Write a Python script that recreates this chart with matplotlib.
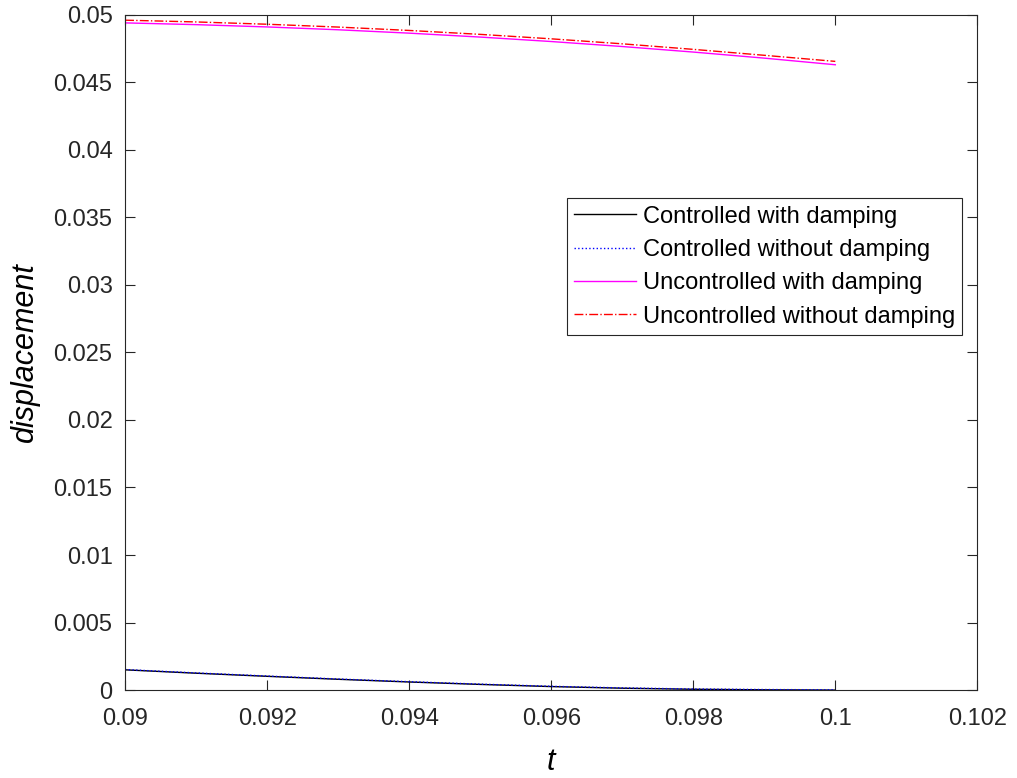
import matplotlib.pyplot as plt
import numpy as np

plt.rcParams['font.family'] = ['Liberation Sans', 'DejaVu Sans']

t = [0.090, 0.091, 0.092, 0.093, 0.094, 0.095, 0.096, 0.097, 0.098, 0.099, 0.100]
ctrl_damp = [0.00150, 0.00125, 0.00102, 0.00080, 0.00060, 0.00042, 0.00026, 0.00014, 0.00006, 0.00002, 0.00000]
ctrl_nodamp = [0.00152, 0.00127, 0.00104, 0.00082, 0.00062, 0.00044, 0.00028, 0.00016, 0.00008, 0.00004, 0.00002]
unc_damp = [0.04940, 0.04927, 0.04910, 0.04889, 0.04864, 0.04835, 0.04802, 0.04765, 0.04724, 0.04679, 0.04630]
unc_nodamp = [0.04960, 0.04947, 0.04930, 0.04909, 0.04884, 0.04855, 0.04822, 0.04785, 0.04744, 0.04700, 0.04655]

fig = plt.figure(figsize=(10.17, 7.78), dpi=100)
ax = fig.add_axes([0.123, 0.113, 0.838, 0.868])

ax.plot(t, ctrl_damp, color='black', lw=1, label='Controlled with damping')
ax.plot(t, ctrl_nodamp, color='blue', lw=1, ls=':', label='Controlled without damping')
ax.plot(t, unc_damp, color='magenta', lw=1, label='Uncontrolled with damping')
ax.plot(t, unc_nodamp, color='red', lw=1, ls='-.', label='Uncontrolled without damping')

ax.set_xlim(0.09, 0.102)
ax.set_ylim(0, 0.05)
ax.set_xticks(np.arange(0.09, 0.1021, 0.002))
ax.set_xticklabels(['0.09', '0.092', '0.094', '0.096', '0.098', '0.1', '0.102'])
ax.set_yticks(np.arange(0, 0.0501, 0.005))
ax.set_yticklabels(['0', '0.005', '0.01', '0.015', '0.02', '0.025', '0.03',
                    '0.035', '0.04', '0.045', '0.05'])
ax.tick_params(direction='in', top=True, right=True, labelsize=17, length=7, colors='#262626')
ax.tick_params(axis='x', pad=13)
ax.tick_params(axis='y', pad=9)
for s in ax.spines.values():
    s.set_color('#262626')

ax.set_xlabel('t', fontsize=22, style='italic', labelpad=12)
ax.set_ylabel('displacement', fontsize=22, style='italic', labelpad=10)

leg = ax.legend(loc='upper left', bbox_to_anchor=(0.519, 0.728), fontsize=17,
                fancybox=False, edgecolor='#262626', framealpha=1,
                handlelength=2.6, handletextpad=0.3, borderpad=0.3,
                labelspacing=0.48, borderaxespad=0)
leg.get_frame().set_linewidth(0.8)

fig.savefig('out.png', dpi=100)
